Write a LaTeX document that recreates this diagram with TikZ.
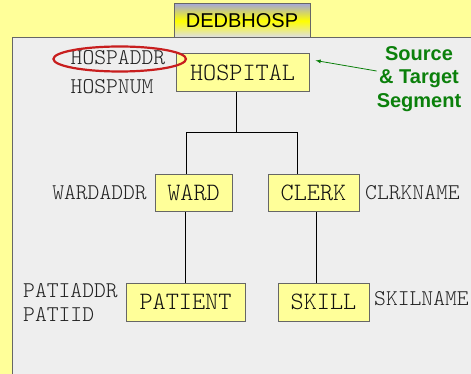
\documentclass[tikz,border=0pt]{standalone}
\usepackage{fontspec}
\setmainfont{Liberation Sans}
\setmonofont{Latin Modern Mono Light}
\usetikzlibrary{shapes,arrows}
\definecolor{pale}{HTML}{FFFF99}
\definecolor{panel}{HTML}{EEEEEE}
\definecolor{edge}{HTML}{666666}
\definecolor{lav}{HTML}{A4A6D8}
\definecolor{segtext}{HTML}{111111}
\definecolor{attrtext}{HTML}{222222}
\definecolor{note}{HTML}{0B800B}
\definecolor{ring}{HTML}{C81E1E}
\tikzset{seg/.style={draw=edge, line width=1pt, fill=pale, text=segtext, inner sep=0pt,
  font=\ttfamily\fontsize{25}{25}\selectfont},
  attr/.style={text=attrtext, inner sep=0pt, align=left, font=\ttfamily\fontsize{22.5}{24}\selectfont}}

\begin{document}
\begin{tikzpicture}[x=1pt,y=-1pt]
\useasboundingbox (0,0) rectangle (471,374);
\clip (0,0) rectangle (471,374);
\fill[pale] (0,0) rectangle (471,374);
\draw[draw=edge, line width=1pt, fill=panel] (12,38) rectangle (490,400);
\draw[draw=edge, line width=1pt, top color=lav, bottom color=lav!40, middle color=yellow] (174.5,3.5) rectangle (310,38);
\node[font=\fontsize{20}{20}\selectfont] (db) at (242,21) {DEDBHOSP};

% segments
\node[seg, minimum width=133pt, minimum height=38pt] (hospital) at (242.5,73) {HOSPITAL};
\node[seg, minimum width=77pt, minimum height=37pt] (ward) at (193.5,193) {WARD};
\node[seg, minimum width=91pt, minimum height=37pt] (clerk) at (313.5,193) {CLERK};
\node[seg, minimum width=119pt, minimum height=38pt] (patient) at (185.5,302) {PATIENT};
\node[seg, minimum width=91pt, minimum height=38pt] (skill) at (323.5,302) {SKILL};

% fields
\node[attr, anchor=west] (hospaddr) at (70.5,58) {HOSPADDR};
\node[attr, anchor=west] (hospnum) at (70.5,87) {HOSPNUM};
\node[attr, anchor=east] (wardaddr) at (147,193) {WARDADDR};
\node[attr, anchor=west] (clrkname) at (365,193) {CLRKNAME};
\node[attr, anchor=west] (patiaddr) at (23,291) {PATIADDR};
\node[attr, anchor=west] (patiid) at (23,314) {PATIID};
\node[attr, anchor=west] (skilname) at (374,299) {SKILNAME};

% tree
\coordinate (jn) at (236,132.7);
\draw[line width=1pt] ([xshift=-6.5pt]hospital.south) -- (jn);
\draw[line width=1pt] ([xshift=-7pt]ward.north) |- (jn) -| ([xshift=-16pt]clerk.north);
\draw[line width=1pt] (ward.south -| patient.north) -- (patient.north);
\draw[line width=1pt] ([xshift=2.5pt]clerk.south) -- ([xshift=-7.5pt]skill.north);

% note
\draw[ring, line width=2.2pt] (119.7,59) ellipse [x radius=66.3pt, y radius=12.5pt];
\node[text=note, align=center, inner sep=0pt, font=\bfseries\fontsize{20}{23.5}\selectfont] (src) at (419,79) {Source\\\& Target\\Segment};
\draw[note, line width=0.8pt, -latex] ([yshift=8pt]src.west) -- ([shift={(6,7)}]hospital.north east);
\end{tikzpicture}
\end{document}
